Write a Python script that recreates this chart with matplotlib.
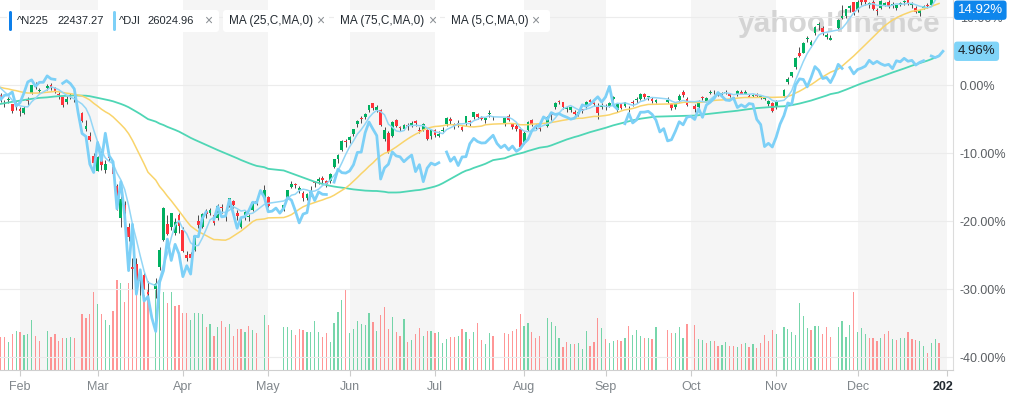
import numpy as np
import pandas as pd
import matplotlib
matplotlib.use("Agg")
import matplotlib.pyplot as plt
from matplotlib.patches import FancyBboxPatch
from matplotlib.transforms import Bbox, IdentityTransform, TransformedBbox, blended_transform_factory

plt.rcParams["font.family"] = ["Liberation Sans", "DejaVu Sans"]

# ── trading calendar (weekdays) and reference values ──────────────────────────
dates = pd.bdate_range("2020-01-24", "2020-12-31")
HOVER_DATE = "2020-06-22"
N225_BASE = 23881.1
DJI_BASE = 29160.09

# N225 closes before the chart window (only used to warm up the moving averages)
n225_prior_close = [
    21885, 21778, 21341, 21410, 21375, 21587, 21456, 21551, 21798, 22207, 22472, 22451, 22492, 22548, 22625, 22750, 22799, 22867, 22974, 22843, 22927,
    22850, 23251, 23303, 23330, 23391, 23331, 23520, 23319, 23141, 23303, 23416, 23292, 23148, 23038, 23112, 23292, 23373, 23437, 23409, 23293,
    23529, 23379, 23135, 23300, 23354, 23430, 23410, 23391, 23424, 24023, 23952, 24066, 23934, 23864, 23816, 23821, 23830, 23782, 23924, 23837, 23656,
    23205, 23575, 23204, 23739, 23850, 24025, 23916, 23933, 24041, 24083, 23865, 24031, 23795,
]

# ── N225 daily OHLC (None = Tokyo closed) ────────────────────────────────────
n225_open = [
    23780, 23528, 23260, 23360, 23200, 23150,
    23045, 22900, 23400, 23600, 23890, 23660, None, 23780, 23890, 23780, 23560, 23450, 23290, 23530, 23390, None, 22900, 22350, 22100, 21400,
    20850, 21440, 20900, 21400, 21000, 20350, 19200, 19650, 18900, 17500, 17600, 17000, 17200, 16600, None, 16700, 17500, 18450, 19000, 18900, 18700, 19300,
    18800, 17900, 17950, 18100, 19100, 18900, 19450, 19400, 19300, 19200, 19600, 19300, 19700, 19800, 19400, 18900, 19300, 19250, 19500, 19800, None, 19900,
    19950, None, None, None, 19500, 19900, 20300, 20400, 20200, 20100, 19900, 20100, 20450, 20500, 20600, 20500, 20500, 21000, 21300, 21600, 21900,
    21950, 22150, 22500, 22700, 22750, 23000, 23250, 23000, 23000, 22000, 22200, 22100, 22650, 22400, 22350, 22450, 22450, 22600, 22300, 22300, 22300, 22100,
    22300, 22100, 22250, 22500, 22700, 22500, 22550, 22400, 22500, 22600, 22750, 22850, 22750, 22650, 22850, 22750, None, None, 22500, 22800, 22500, 22450, 22350,
    21850, 22300, 22650, 22450, 22350, None, 22450, 22900, 23100, 23300, 23300, 23050, 23000, 22950, 22850, 23050, 23100, 23350, 23250, 23100, 23100,
    23100, 23150, 23400, 23000, 23200, 23150, 23000, 23300, 23350, 23400, 23550, 23450, 23400, 23300, None, None, 23300, 23200, 23100, 23350, 23650, 23400,
    None, 23150, 23100, 23450, 23300, 23600, 23650, 23600, 23550, 23600, 23550, 23400, 23550, 23650, 23550, 23500, 23500, 23550, 23450, 23400, 23200, 23250,
    23100, None, 23500, 24000, 24200, 24500, 25000, 25000, 25500, 25300, 25700, 26000, 25900, 25550, 25450, None, 25900, 26250, 26300, 26600, 26800,
    26500, 26900, 26850, 26700, 26800, 26500, 26600, 26700, 26800, 26700, 26600, 26700, 26800, 26850, 26700, 26600, 26400, 26600, 26700, 26700, 26900, 27500, None,
]
n225_high = [
    23900, 23585, 23350, 23450, 23210, 23270,
    23100, 23160, 23450, 23880, 23995, 23760, None, 23900, 23950, 23800, 23640, 23460, 23510, 23600, 23500, None, 22950, 22650, 22220, 21500,
    21400, 21650, 21250, 21450, 21050, 20400, 19980, 19800, 19050, 17800, 17800, 17400, 17300, 17000, None, 17100, 18200, 19600, 19300, 19400, 19200, 19400,
    18900, 18050, 18000, 18600, 19300, 19400, 19520, 19550, 19350, 19700, 19700, 19400, 19920, 19850, 19500, 19200, 19500, 19350, 19800, 19900, None, 20370,
    19990, None, None, None, 19750, 20200, 20500, 20450, 20350, 20150, 20100, 20350, 20500, 20650, 20700, 20550, 20780, 21300, 21450, 21950, 22000,
    22100, 22350, 22650, 22800, 22900, 23180, 23250, 23180, 23050, 22400, 22250, 22600, 22700, 22450, 22500, 22550, 22600, 22650, 22400, 22550, 22350, 22350,
    22350, 22250, 22400, 22750, 22750, 22550, 22650, 22450, 22800, 22650, 22950, 22900, 22800, 22750, 23000, 22800, None, None, 22750, 22850, 22550, 22500, 22400,
    22250, 22600, 22700, 22500, 22400, None, 22800, 22950, 23300, 23350, 23300, 23150, 23150, 23000, 22950, 23050, 23320, 23400, 23300, 23250, 23250,
    23200, 23300, 23500, 23250, 23250, 23300, 23150, 23350, 23450, 23600, 23600, 23500, 23450, 23400, None, None, 23450, 23250, 23250, 23550, 23700, 23450,
    None, 23200, 23350, 23500, 23450, 23700, 23700, 23650, 23650, 23700, 23550, 23450, 23700, 23700, 23700, 23550, 23550, 23600, 23500, 23450, 23350, 23300,
    23350, None, 23750, 24150, 24350, 24850, 25200, 25400, 25600, 25450, 25950, 26100, 25950, 25700, 25650, None, 26200, 26700, 26550, 26700, 26800,
    26850, 26950, 26900, 26800, 26850, 26600, 26850, 26800, 26850, 26800, 26700, 26800, 26850, 26900, 26800, 26650, 26550, 26700, 26750, 26900, 27600, 27600, None,
]
n225_low = [
    23700, 23300, 23115, 23250, 22892, 23020,
    22775, 22860, 23180, 23580, 23740, 23590, None, 23720, 23710, 23600, 23400, 23100, 23230, 23400, 23300, None, 22570, 22270, 21900, 20916,
    20850, 20900, 20800, 21200, 20700, 19500, 18900, 19300, 18400, 16700, 16900, 16500, 16700, 16360, None, 16400, 17400, 18400, 18600, 18800, 18600, 18700,
    18000, 17700, 17650, 18050, 18850, 18850, 19200, 19300, 18950, 19150, 19400, 19100, 19600, 19550, 19150, 18850, 19150, 19100, 19450, 19650, None, 19850,
    19600, None, None, None, 19450, 19880, 20250, 20250, 20100, 19800, 19850, 20000, 20300, 20400, 20450, 20300, 20450, 20950, 21150, 21550, 21700,
    21850, 22100, 22400, 22550, 22700, 22950, 23000, 22950, 22450, 21900, 21500, 22050, 22400, 22250, 22300, 22300, 22400, 22450, 22200, 22250, 21950, 22000,
    22050, 22050, 22200, 22450, 22500, 22350, 22400, 22250, 22450, 22450, 22700, 22700, 22650, 22550, 22750, 22650, None, None, 22450, 22600, 22350, 22250, 21700,
    21800, 22250, 22450, 22300, 22250, None, 22400, 22650, 23050, 23200, 23050, 22950, 22950, 22800, 22800, 22900, 23050, 23200, 23150, 22700, 23050,
    23000, 23100, 23350, 22950, 23050, 23100, 22950, 23150, 23250, 23350, 23400, 23350, 23250, 23250, None, None, 23250, 23000, 23050, 23300, 23450, 23150,
    None, 22950, 23050, 23350, 23300, 23550, 23550, 23500, 23500, 23550, 23450, 23350, 23500, 23550, 23550, 23450, 23450, 23450, 23400, 23350, 23150, 22950,
    23050, None, 23450, 23900, 24150, 24450, 24850, 25000, 25400, 25200, 25650, 25800, 25650, 25500, 25450, None, 25850, 26200, 26250, 26450, 26350,
    26450, 26700, 26700, 26600, 26500, 26350, 26550, 26650, 26600, 26600, 26500, 26650, 26700, 26700, 26600, 26400, 26300, 26550, 26600, 26650, 26900, 27350, None,
]
n225_close = [
    23827, 23343, 23216, 23379, 22977, 23205,
    22971, 23084, 23319, 23873, 23827, 23685, None, 23861, 23827, 23687, 23523, 23193, 23400, 23479, 23386, None, 22605, 22426, 21948, 21142,
    21344, 21082, 21100, 21329, 20749, 19698, 19867, 19416, 18559, 17431, 17002, 17011, 16726, 16552, None, 16887, 18092, 19546, 18664, 19389, 19084, 18917,
    18065, 17818, 17820, 18576, 18950, 19353, 19345, 19498, 19043, 19638, 19550, 19290, 19897, 19669, 19281, 19137, 19429, 19262, 19783, 19771, None, 20193,
    19619, None, None, None, 19674, 20179, 20390, 20366, 20267, 19914, 20037, 20133, 20433, 20595, 20552, 20388, 20741, 21271, 21419, 21916, 21877,
    22062, 22325, 22613, 22695, 22863, 23178, 23091, 23124, 22472, 22305, 21530, 22582, 22455, 22355, 22478, 22437.27, 22549, 22534, 22259, 22512, 21995, 22288,
    22122, 22146, 22306, 22714, 22614, 22438, 22529, 22291, 22784, 22587, 22945, 22770, 22696, 22717, 22884, 22751, None, None, 22715, 22657, 22397, 22339, 21710,
    22195, 22573, 22514, 22418, 22329, None, 22750, 22843, 23249, 23289, 23096, 23051, 23110, 22880, 22920, 22985, 23296, 23290, 23208, 22882, 23139,
    23138, 23247, 23465, 23205, 23089, 23274, 23032, 23235, 23406, 23559, 23454, 23475, 23319, 23360, None, None, 23346, 23087, 23204, 23511, 23539, 23185,
    None, 23029, 23312, 23433, 23422, 23647, 23619, 23558, 23601, 23626, 23507, 23410, 23671, 23567, 23639, 23474, 23516, 23494, 23485, 23418, 23331, 22977,
    23295, None, 23695, 24105, 24325, 24839, 24905, 25349, 25520, 25385, 25907, 26014, 25728, 25634, 25527, None, 26165, 26296, 26537, 26644, 26433,
    26787, 26800, 26809, 26751, 26547, 26467, 26817, 26756, 26652, 26732, 26687, 26757, 26806, 26763, 26714, 26436, 26524, 26668, 26656, 26854, 27568, 27444.17, None,
]
# N225 volume, millions of shares
n225_volume = [
    60, 66, 66, 56, 72, 78,
    76, 70, 72, 100, 68, 58, None, 78, 66, 72, 58, 64, 64, 66, 64, None, 112, 104, 112, 156,
    132, 112, 100, 90, 118, 180, 174, 136, 174, 190, 170, 160, 150, 160, None, 174, 160, 156, 134, 156, 128, 130,
    114, 114, 100, 114, 114, 112, 86, 92, 68, 86, 98, 86, 92, 68, 82, 82, 76, 88, 80, 74, None, 110,
    90, None, None, None, 86, 86, 80, 70, 82, 80, 76, 76, 98, 76, 66, 74, 56, 94, 116, 140, 162,
    74, 82, 98, 92, 90, 114, 96, 78, 110, 126, 82, 106, 76, 68, 102, 56, 60, 72, 84, 68, 78, 78,
    74, 76, 54, 62, 66, 66, 68, 82, 76, 62, 76, 94, 60, 52, 74, 68, None, None, 74, 72, 78, 82, 112,
    88, 94, 76, 64, 68, None, 104, 96, 88, 64, 46, 56, 52, 52, 54, 42, 78, 48, 56, 104, 84,
    62, 54, 58, 60, 58, 64, 88, 70, 80, 68, 64, 64, 62, 86, None, None, 80, 74, 74, 86, 64, 92,
    None, 90, 62, 60, 54, 58, 58, 48, 50, 56, 48, 48, 46, 52, 54, 46, 52, 44, 54, 70, 58, 80,
    72, None, 86, 82, 76, 70, 134, 108, 84, 80, 88, 88, 72, 86, 66, None, 86, 98, 66, 90, 156,
    76, 84, 72, 64, 64, 58, 64, 72, 78, 62, 60, 64, 64, 76, 62, 60, 58, 48, 34, 54, 62, 54, None,
]
# Dow Jones closes (None = NYSE closed)
dji_close = [
    28990, 28535, 28723, 28734, 28860, 28256,
    28400, 28808, 29291, 29380, 29103, 29276, 29277, 29551, 29424, 29398, None, 29232, 29348, 29220, 28992, 27961, 27081, 26957, 25767, 25409,
    26703, 25917, 27091, 26122, 25865, 23851, 25018, 23553, 21200, 23186, 20189, 21237, 19899, 20087, 19174, 18592, 20705, 21201, 22552, 21637, 22327, 21917,
    20944, 21413, 21053, 22680, 22654, 23434, 23719, None, 23391, 23950, 23505, 23538, 24242, 23650, 23019, 23475, 23516, 23775, 24134, 24102, 24634, 24346,
    23724, 23750, 23883, 23665, 23876, 24331, 24222, 23765, 23248, 23625, 23685, 24597, 24207, 24576, 24474, 24465, None, 24995, 25548, 25401, 25383,
    25475, 25742, 26270, 26282, 27111, 27572, 27272, 26990, 25128, 25606, 25763, 26290, 26120, 26080, 25871, 26024.96, 26156, 25446, 25745, 25016, 25596, 25813,
    25735, 25827, None, 26287, 25891, 26067, 25706, 26075, 26086, 26643, 26870, 26735, 26672, 26681, 26840, 27005, 26653, 26470, 26585, 26379, 26540, 26314, 26428,
    26665, 26828, 27202, 27387, 27433, 27791, 27687, 27977, 27897, 27931, 27844, 27778, 27693, 27740, 27930, 28308, 28249, 28332, 28492, 28654, 28430,
    28646, 29100, 28293, 28133, None, 27501, 27940, 27535, 27666, 27993, 27996, 28032, 27902, 27657, 27148, 27289, 26763, 26815, 27174, 27584, 27453, 27782,
    27817, 27683, 28149, 27773, 28303, 28426, 28587, 28838, 28680, 28515, 28494, 28606, 28195, 28309, 28211, 28364, 28336, 27685, 27464, 26520, 26660, 26502,
    26925, 27481, 27848, 28391, 28323, 29158, 29421, 29398, 29080, 29480, 29950, 29784, 29438, 29483, 29263, 29591, 30046, 29873, None, 29910, 29639,
    29824, 29884, 29970, 30218, 30070, 30174, 30069, 29999, 30046, 29862, 30199, 30155, 30304, 30179, 30216, 30015, 30130, 30200, None, 30404, 30336, 30410, 30606.48,
]

series = {"open": n225_open, "high": n225_high, "low": n225_low, "close": n225_close,
          "volume": n225_volume, "dji": dji_close}
for name, arr in series.items():
    assert len(arr) == len(dates), (name, len(arr), len(dates))

# ── colours ──────────────────────────────────────────────────────────────────
UP, DOWN = "#00b061", "#ff333a"
VOL_UP, VOL_DOWN = "#49c98f", "#ff7373"
N225_BLUE, DJI_BLUE = "#0d7fea", "#7dd0f7"
MA25_C, MA75_C, MA5_C = "#f9d46b", "#4fd6b5", "#93d6f6"
BAND = "#f5f5f5"

W, H = 1024, 399
Y_TOP, Y_BOTTOM = 12.5, -41.91


def pct(values, base):
    return (np.asarray(values, dtype=float) / base - 1.0) * 100.0


x = np.arange(len(dates))
o = pct(n225_open, N225_BASE)
hi = pct(n225_high, N225_BASE)
lo = pct(n225_low, N225_BASE)
c = pct(n225_close, N225_BASE)
dji = pct(dji_close, DJI_BASE)
vol = np.asarray(n225_volume, dtype=float)
ok = ~np.isnan(c)

# moving averages on trading days only
closes = pd.Series(np.asarray(n225_close, dtype=float)).dropna()
full = pd.Series(list(n225_prior_close) + list(closes.values), dtype=float)
ma = {w: pct(full.rolling(w, min_periods=1).mean().values[-len(closes):], N225_BASE)
      for w in (5, 25, 75)}
x_ma = closes.index.values

# volume colour: close versus previous close
prev = pd.Series(np.asarray(n225_close, dtype=float)).ffill().shift(1)
prev.iloc[0] = n225_prior_close[-1]
vol_up = np.asarray(n225_close, dtype=float) >= prev.values

# ── figure ───────────────────────────────────────────────────────────────────
fig = plt.figure(figsize=(W / 100, H / 100), dpi=100)
fig.patch.set_facecolor("white")
rect = [0, (H - 370) / H, 953 / W, 370 / H]
vax = fig.add_axes(rect)
ax = fig.add_axes(rect, sharex=vax)
ax.patch.set_visible(False)
vax.axis("off")

x_lo, x_hi = 0.84, 246.6
ax.set_xlim(x_lo, x_hi)
ax.set_ylim(Y_BOTTOM, Y_TOP)
vax.set_ylim(0, 740)

# month ticks / alternating bands
all_days = pd.bdate_range("2020-01-24", "2021-01-01")
firsts = pd.Series(np.arange(len(all_days)), index=all_days)
firsts = firsts.groupby([all_days.year, all_days.month]).first().iloc[1:]
tick_pos = firsts.values
tick_lbl = [("2021" if y == 2021 else pd.Timestamp(y, m, 1).strftime("%b")) for y, m in firsts.index]
for i, (y, m) in enumerate(firsts.index):
    if y == 2020 and m % 2 == 0:
        end = tick_pos[i + 1] if i + 1 < len(tick_pos) else x_hi
        vax.axvspan(tick_pos[i], end, color=BAND, lw=0, zorder=0)

# watermark
vax.text(0.881, 0.935, "yahoo!finance", transform=vax.transAxes, ha="center", va="center",
         fontsize=21.5, fontweight="bold", color="#cfcfcf", alpha=0.85, zorder=0.5)

# volume
vok = ~np.isnan(vol)
vax.bar(x[vok], vol[vok], width=0.32, color=np.where(vol_up, VOL_UP, VOL_DOWN)[vok],
        alpha=0.75, lw=0, zorder=1)

# grid, axes cosmetics
ax.set_yticks(np.arange(-40, 11, 10))
ax.set_yticklabels([f"{v:.2f}%" for v in np.arange(-40, 11, 10)])
ax.yaxis.tick_right()
ax.yaxis.grid(True, color="#ececec", lw=0.8, zorder=0)
ax.tick_params(axis="y", length=0, pad=5, labelsize=9, labelcolor="#5b5f63")
for side in ("top", "left"):
    ax.spines[side].set_visible(False)
ax.spines["right"].set_color("#dcdcdc")
ax.spines["bottom"].set_color("#cfcfcf")

ax.set_xticks(tick_pos)
ax.set_xticklabels(tick_lbl)
ax.tick_params(axis="x", length=4, color="#cccccc", labelsize=9, labelcolor="#80868b", pad=4)
last_lbl = ax.get_xticklabels()[-1]
last_lbl.set_fontweight("bold")
last_lbl.set_color("#232a31")
last_lbl.set_clip_on(True)
last_lbl.set_clip_box(TransformedBbox(Bbox([[0, 0], [953, H]]), IdentityTransform()))

# candles
body_lo = np.minimum(o, c)
body_h = np.maximum(np.abs(c - o), 0.12)
ax.vlines(x[ok], lo[ok], hi[ok], color="#4a4a4a", lw=0.7, zorder=3)
ax.bar(x[ok], body_h[ok], bottom=body_lo[ok], width=0.72,
       color=np.where(c >= o, UP, DOWN)[ok], lw=0, zorder=4)

# moving averages and comparison line
ax.plot(x_ma, ma[75], color=MA75_C, lw=1.3, zorder=5)
ax.plot(x_ma, ma[25], color=MA25_C, lw=1.1, zorder=5)
ax.plot(x_ma, ma[5], color=MA5_C, lw=1.1, zorder=5)
ax.plot(x, dji, color=DJI_BLUE, lw=2.0, zorder=6)

# last-value badges
bt = blended_transform_factory(ax.transAxes, ax.transData)
last_n = c[ok][-1]
last_d = dji[~np.isnan(dji)][-1]
for val, fc, tc in [(last_n, "#0e86ec", "white"), (last_d, "#80d4f8", "#1d2228")]:
    ax.text(1.005, min(val, Y_TOP - 1.5), f"{val:.2f}%", transform=bt, ha="left", va="center",
            fontsize=9.5, color=tc, clip_on=False, zorder=10,
            bbox=dict(boxstyle="round,pad=0.28,rounding_size=0.25", fc=fc, ec="none"))

# ── legend chips ─────────────────────────────────────────────────────────────
hover = dates.get_loc(pd.Timestamp(HOVER_DATE))


def chip(x0, x1):
    fig.patches.append(FancyBboxPatch((x0, H - 32), x1 - x0, 22, boxstyle="round,pad=0,rounding_size=3",
                                      transform=IdentityTransform(), fc="white", ec="none", zorder=5))


def swatch(x0, color):
    fig.patches.append(FancyBboxPatch((x0, H - 31), 3, 20, boxstyle="round,pad=0,rounding_size=1.5",
                                      transform=IdentityTransform(), fc=color, ec="none", zorder=6))


def label(xp, s, color="#232a31", size=8):
    fig.text(xp / W, 1 - 21 / H, s, ha="left", va="center", fontsize=size, color=color, zorder=7)


chip(7, 110)
swatch(9, N225_BLUE)
label(17, "^N225")
label(57, f"{n225_close[hover]:.2f}")
chip(110, 219)
swatch(113, DJI_BLUE)
label(119, "^DJI")
label(147, f"{dji_close[hover]:.2f}")
label(204, "\u00d7", "#8a8f94", 10)
for x0, x1, txt, xx in [(223, 329, "MA (25,C,MA,0)", 316), (334, 440, "MA (75,C,MA,0)", 428),
                        (445, 550, "MA (5,C,MA,0)", 531)]:
    chip(x0, x1)
    label(x0 + 6, txt, size=8.5)
    label(xx, "\u00d7", "#8a8f94", 10)

fig.savefig("out.png", dpi=100, facecolor="white")
